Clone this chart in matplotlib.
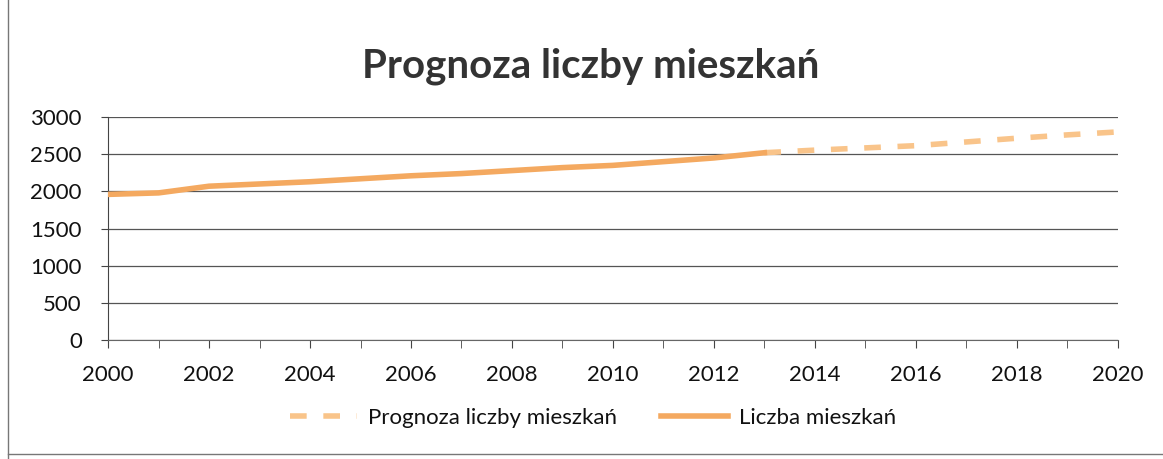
import matplotlib.pyplot as plt
from matplotlib.lines import Line2D

# data
years_actual = [2000, 2001, 2002, 2003, 2004, 2005, 2006, 2007, 2008, 2009, 2010, 2011, 2012, 2013]
residents = [1960, 1980, 2070, 2100, 2130, 2170, 2210, 2240, 2280, 2320, 2350, 2400, 2450, 2520]
years_forecast = [2013, 2014, 2015, 2016, 2017, 2018, 2019, 2020]
forecast = [2520, 2555, 2585, 2615, 2665, 2715, 2760, 2800]
y_ticks = [0, 500, 1000, 1500, 2000, 2500, 3000]
x_labels = list(range(2000, 2021, 2))

plt.rcParams['font.family'] = ['Lato', 'DejaVu Sans']

fig = plt.figure(figsize=(11.63, 4.59), dpi=100)
ax = fig.add_axes([0.093, 0.259, 0.868, 0.486])

ax.plot(years_forecast, forecast, color='#F9C48A', lw=4, dashes=(3, 3),
        label='Prognoza liczby mieszkań', zorder=3)
ax.plot(years_actual, residents, color='#F4A960', lw=4,
        label='Liczba mieszkań', zorder=4)

ax.set_xlim(2000, 2020)
ax.set_ylim(0, 3000)
ax.set_yticks(y_ticks)
ax.set_xticks(x_labels)
ax.set_xticks(range(2000, 2021), minor=True)
ax.grid(axis='y', color='#555555', lw=0.9)
ax.set_axisbelow(True)

for side in ['top', 'right']:
    ax.spines[side].set_visible(False)
ax.spines['left'].set_color('#444444')
ax.spines['bottom'].set_color('#666666')
ax.tick_params(axis='both', which='both', direction='out', color='#444444')
ax.tick_params(axis='x', which='both', length=6, pad=12)
ax.tick_params(axis='y', length=5, pad=14)
ax.tick_params(labelsize=16, labelcolor='#111111')

fig.text(0.508, 0.855, 'Prognoza liczby mieszkań', ha='center', va='center',
         fontsize=29, fontweight='bold', color='#333333')

fig.legend(loc='center', bbox_to_anchor=(0.51, 0.09), ncol=2, frameon=False,
           fontsize=16, handlelength=3.0, handletextpad=0.5, columnspacing=2.0,
           labelcolor='#111111')

# border of the scanned chart box
fig.add_artist(Line2D([0.007, 0.007], [0.0, 1.0], transform=fig.transFigure, color='#777777', lw=1))
fig.add_artist(Line2D([0.007, 1.0], [0.01, 0.01], transform=fig.transFigure, color='#777777', lw=1))

fig.savefig('out.png', dpi=100)
